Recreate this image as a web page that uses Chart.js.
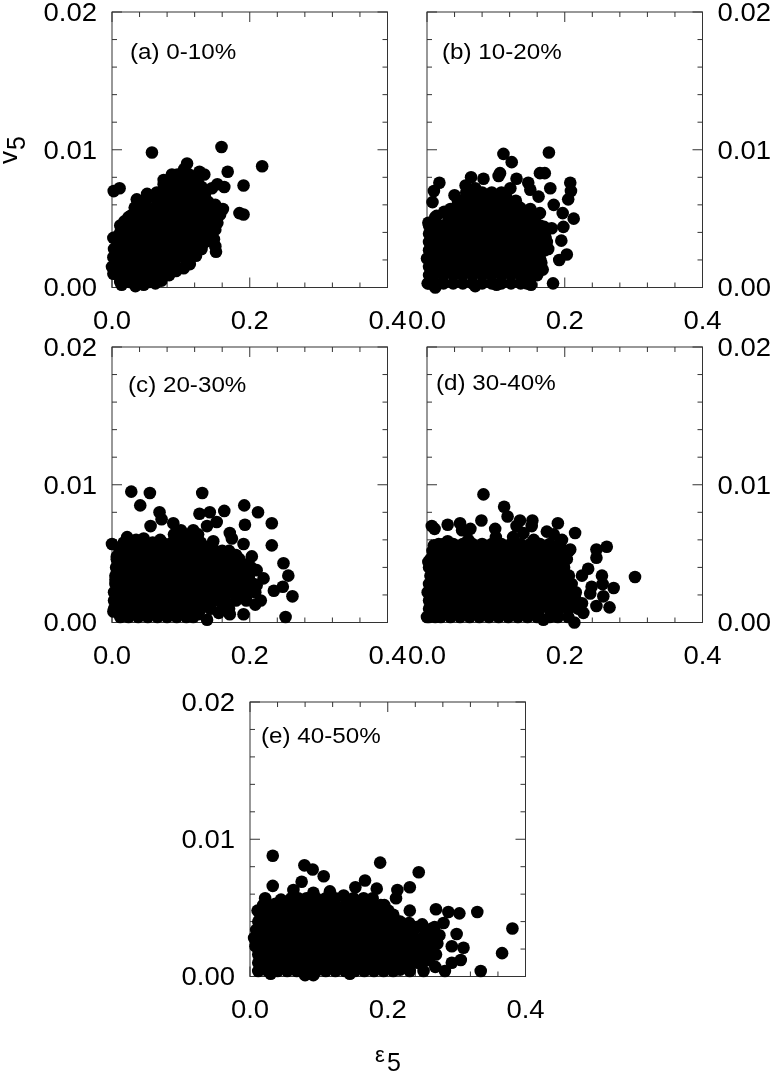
<!DOCTYPE html>
<html>
<head>
<meta charset="utf-8">
<style>
  html, body { margin: 0; background: #fff; }
  #page { position: relative; width: 771px; height: 1072px; overflow: hidden; }
  canvas { position: absolute; left: 0; top: 0; }
</style>
<script src="https://cdn.jsdelivr.net/npm/chart.js@4"></script>
</head>
<body>
<div id="page"></div>
<script>
// tick values
const xTicks = [0, 0.04, 0.08, 0.12, 0.16, 0.2, 0.24, 0.28, 0.32, 0.36, 0.4];
const yTicks = [0, 0.002, 0.004, 0.006, 0.008, 0.01, 0.012, 0.014, 0.016, 0.018, 0.02];
const xLabelled = [0, 0.2, 0.4];
const yLabelled = [0, 0.01, 0.02];
const panelNames = ['(a) 0-10%', '(b) 10-20%', '(c) 20-30%', '(d) 30-40%', '(e) 40-50%'];

// separate points that can be read one by one, as [x, y]
const looseA = [[.058,.0098],[.159,.0102],[.218,.0088],[.168,.0084],[.191,.0074],[.0025,.007],[.011,.0072],[.185,.0054],[.191,.0053],[.161,.0057],[.163,.0073],[.153,.0075],[.145,.0072],[.15,.003],[.151,.0026],[.109,.009],[.127,.0084],[.134,.0082],[.087,.0082],[.075,.0078],[.036,.0064],[.051,.0068],[.065,.0069],[.024,.0051],[.002,.0036],[0,.0015],[.014,.0002],[.034,.0001],[.046,.0002],[.063,.0003],[.002,.001],[.002,.0022],[.003,.0028],[.012,.0045],[.018,.0048],[.072,.0005],[.083,.0009],[.093,.0012],[.104,.0014],[.113,.0017],[.122,.0023],[.13,.0028],[.135,.0033],[.148,.0035],[.15,.0042],[.153,.0047],[.157,.0053],[.15,.006],[.14,.0062],[.135,.0068],[.13,.0073],[.122,.0078],[.118,.008],[.105,.0086],[.095,.0082],[.087,.0081],[.075,.0075],[.06,.0066],[.045,.0063],[.033,.0058],[.028,.0052],[.015,.0043],[.008,.0037]];
const looseB = [[.177,.0098],[.111,.0097],[.123,.0091],[.106,.0083],[.104,.0081],[.018,.0076],[.01,.007],[.008,.0062],[.064,.008],[.082,.0079],[.056,.0074],[.04,.0067],[.13,.0079],[.121,.0072],[.147,.0076],[.164,.0083],[.171,.0083],[.179,.0072],[.162,.0066],[.15,.0071],[.208,.0076],[.209,.007],[.205,.0064],[.184,.006],[.197,.0054],[.213,.005],[.198,.0044],[.181,.0043],[.164,.0054],[.195,.0034],[.176,.0028],[.203,.0024],[.192,.002],[.168,.0013],[.183,.0003],[.151,.0002],[.002,.0047],[.001,.0003],[.012,0],[.07,.0001],[.101,.0002],[0,.0021],[.014,.0052],[.025,.0055],[.172,.0036],[.166,.0018],[.16,.0009],[.17,.0044],[.155,.0049],[.135,.0058],[.115,.0066],[.045,.0062],[.07,.0072]];
const looseC = [[.028,.0095],[.055,.0094],[.041,.0085],[.131,.0094],[.069,.008],[.072,.0075],[.056,.007],[.022,.0062],[0,.0057],[.089,.0072],[.127,.0079],[.142,.008],[.152,.0073],[.138,.007],[.163,.0081],[.192,.0085],[.212,.008],[.193,.0071],[.232,.0072],[.232,.0056],[.171,.0065],[.174,.0061],[.191,.0057],[.147,.0059],[.203,.0048],[.21,.0038],[.22,.0032],[.249,.0043],[.256,.0034],[.248,.0026],[.235,.0023],[.262,.0019],[.252,.0004],[.216,.0016],[.208,.0013],[.191,.0006],[.171,.0006],[.155,.0007],[.138,.0002],[.007,.0048],[.005,.0031],[.002,.0008],[.035,.006],[.046,.0061],[.07,.006],[.1,.0067],[.118,.0067],[.16,.0052],[.18,.0049],[.196,.0042],[.21,.0027],[.17,.001],[.125,.0006],[.14,.0055]];
const looseD = [[.082,.0093],[.112,.0084],[.117,.0077],[.007,.007],[.011,.0068],[.03,.0071],[.048,.0072],[.051,.0067],[.063,.0068],[.079,.0074],[.099,.0068],[.135,.0074],[.153,.0074],[.152,.007],[.13,.007],[.14,.0065],[.19,.0072],[.174,.0066],[.184,.0064],[.215,.0065],[.196,.006],[.261,.0055],[.246,.0053],[.246,.0047],[.302,.0033],[.271,.0025],[.265,.0011],[.256,.0019],[.246,.0012],[.254,.0034],[.255,.0028],[.234,.0039],[.225,.0034],[.239,.0026],[.237,.0021],[.227,.0007],[.214,0],[.169,.0002],[.002,.0044],[0,.0004],[.1,.0062],[.125,.0062],[.155,.006],[.01,.0056],[.03,.0059],[.06,.006],[.208,.0053],[.225,.0014],[.215,.0018]];
const looseE = [[.033,.0088],[.033,.0066],[.079,.0081],[.091,.0078],[.107,.0073],[.075,.0069],[.063,.0063],[.189,.0083],[.245,.0076],[.232,.0065],[.214,.0063],[.212,.0057],[.232,.0048],[.167,.007],[.153,.0065],[.184,.0064],[.116,.0062],[.092,.0061],[.136,.0059],[.022,.0057],[.037,.0053],[.011,.0048],[.27,.0049],[.288,.0047],[.304,.0046],[.33,.0047],[.381,.0035],[.366,.0017],[.335,.0004],[.31,.0021],[.3,.0031],[.293,.0022],[.306,.0012],[.283,.0004],[.293,.001],[.281,.0039],[.264,.0035],[.271,.0027],[.269,.0007],[.252,.0004],[.232,.0004],[.218,.0005],[.242,.0036],[.218,.004],[.201,.0048],[.03,.0002],[.08,.0001],[.092,.0001],[.145,.0002],[.045,.0056],[.06,.0057],[.15,.0057],[.195,.0052],[.208,.0045],[.231,.0039],[.255,.0032],[.265,.0017],[.26,.0012],[.272,.0024],[.275,.003],[.268,.0036],[.25,.0038],[.27,.0016]];

// solid part of each cloud, one row per y value: [y, x, x, x ...]
const denseA = [
  [.0004,.012,.026,.04,.054,.062],
  [.001,.006,.02,.034,.048,.062,.074],
  [.0016,.004,.013,.027,.041,.055,.069,.083,.092],
  [.0022,.006,.02,.034,.048,.062,.076,.09,.104,.112],
  [.0028,.005,.013,.027,.041,.055,.069,.083,.097,.111,.124],
  [.0034,.008,.02,.034,.048,.062,.076,.09,.104,.118,.132],
  [.004,.012,.027,.041,.055,.069,.083,.097,.111,.125,.139],
  [.0046,.02,.034,.048,.062,.076,.09,.104,.118,.132,.146],
  [.0052,.027,.041,.055,.069,.083,.097,.111,.125,.139,.15],
  [.0058,.04,.048,.062,.076,.09,.104,.118,.132,.142],
  [.0064,.05,.069,.083,.097,.111,.125,.136],
  [.007,.08,.09,.104,.118,.132],
  [.0076,.085,.097,.111,.125],
  [.0082,.1,.112]
];
const denseB = [
  [.0003,.003,.012,.024,.038,.052,.066,.08,.094,.108,.122,.136,.145],
  [.0009,.003,.01,.024,.038,.052,.066,.08,.094,.108,.122,.136,.15],
  [.0015,.003,.017,.031,.045,.059,.073,.087,.101,.115,.129,.143,.157],
  [.0021,.003,.01,.024,.038,.052,.066,.08,.094,.108,.122,.136,.15,.164],
  [.0027,.003,.017,.031,.045,.059,.073,.087,.101,.115,.129,.143,.157,.171],
  [.0033,.003,.01,.024,.038,.052,.066,.08,.094,.108,.122,.136,.15,.164,.174],
  [.0039,.003,.017,.031,.045,.059,.073,.087,.101,.115,.129,.143,.157,.171],
  [.0045,.003,.01,.024,.038,.052,.066,.08,.094,.108,.122,.136,.15,.164],
  [.0051,.012,.031,.045,.059,.073,.087,.101,.115,.129,.143,.157],
  [.0057,.034,.045,.052,.066,.08,.094,.108,.122,.136,.15],
  [.0063,.05,.059,.073,.087,.101,.115,.129],
  [.0069,.057,.066,.08,.094,.108]
];
const denseC = [
  [.0004,.012,.024,.038,.052,.066,.08,.094,.108,.118],
  [.001,.003,.017,.031,.045,.059,.073,.087,.101,.115,.129,.143,.16],
  [.0016,.003,.01,.024,.038,.052,.066,.08,.094,.108,.122,.136,.15,.164,.18,.195],
  [.0022,.003,.017,.031,.045,.059,.073,.087,.101,.115,.129,.143,.157,.171,.185,.199,.208],
  [.0028,.005,.01,.024,.038,.052,.066,.08,.094,.108,.122,.136,.15,.164,.178,.192,.206],
  [.0034,.005,.017,.031,.045,.059,.073,.087,.101,.115,.129,.143,.157,.171,.185,.199],
  [.004,.006,.01,.024,.038,.052,.066,.08,.094,.108,.122,.136,.15,.164,.178,.192,.202],
  [.0046,.007,.017,.031,.045,.059,.073,.087,.101,.115,.129,.143,.157,.171,.185],
  [.0052,.011,.024,.038,.052,.066,.08,.094,.108,.122,.136,.15,.17],
  [.0058,.017,.031,.045,.059,.073,.087,.101,.115,.129],
  [.0064,.09,.1,.112,.125]
];
const denseD = [
  [.0004,.003,.012,.02,.034,.048,.062,.076,.09,.104,.118,.132,.146,.16,.178,.19,.205],
  [.001,.003,.01,.024,.038,.052,.066,.08,.094,.108,.122,.136,.15,.164,.178,.192,.206,.22],
  [.0016,.003,.017,.031,.045,.059,.073,.087,.101,.115,.129,.143,.157,.171,.185,.199,.213],
  [.0022,.001,.01,.024,.038,.052,.066,.08,.094,.108,.122,.136,.15,.164,.178,.192,.206,.216],
  [.0028,.003,.017,.031,.045,.059,.073,.087,.101,.115,.129,.143,.157,.171,.185,.199,.21],
  [.0034,.005,.01,.024,.038,.052,.066,.08,.094,.108,.122,.136,.15,.164,.178,.192,.206],
  [.004,.003,.017,.031,.045,.059,.073,.087,.101,.115,.129,.143,.157,.171,.185,.199],
  [.0046,.005,.01,.024,.038,.052,.066,.08,.094,.108,.122,.136,.15,.164,.178,.192,.203],
  [.0052,.008,.017,.031,.045,.059,.073,.087,.101,.115,.129,.143,.157,.171,.185,.199,.206],
  [.0057,.017,.024,.038,.052,.066,.08,.094,.108,.122,.136,.15,.164,.178,.192]
];
const denseE = [
  [.0004,.012,.026,.04,.054,.068,.082,.096,.11,.124,.138,.152,.166,.18,.194,.208],
  [.001,.012,.019,.033,.047,.061,.075,.089,.103,.117,.131,.145,.159,.173,.187,.201,.215,.229,.243,.25],
  [.0016,.012,.026,.04,.054,.068,.082,.096,.11,.124,.138,.152,.166,.18,.194,.208,.222,.236,.25,.257],
  [.0022,.008,.019,.033,.047,.061,.075,.089,.103,.117,.131,.145,.159,.173,.187,.201,.215,.229,.243,.257,.264],
  [.0028,.006,.012,.026,.04,.054,.068,.082,.096,.11,.124,.138,.152,.166,.18,.194,.208,.222,.236,.25,.26],
  [.0034,.009,.019,.033,.047,.061,.075,.089,.103,.117,.131,.145,.159,.173,.187,.201,.215,.229,.238],
  [.004,.012,.026,.04,.054,.068,.082,.096,.11,.124,.138,.152,.166,.18,.194,.208,.215],
  [.0046,.014,.019,.033,.047,.061,.075,.089,.103,.117,.131,.145,.159,.173,.187,.2],
  [.0052,.019,.026,.04,.054,.068,.082,.096,.11,.124,.138,.152,.166,.18,.19],
  [.0057,.07,.082,.096,.11,.124,.165,.178]
];

const textStretch = 1.1;
const tickColor = '#333';
const leftBoxWidth = 90;
const rightBoxWidth = 68.5;
const xBoxHeight = 50;

// plot boxes in page pixels
const panels = [
  { loose: looseA, dense: denseA, left: 112, right: 387.5, top: 12, bottom: 287.5, yAt: 'left', nameX: 18, nameY: 47 },
  { loose: looseB, dense: denseB, left: 427, right: 702.5, top: 12, bottom: 287.5, yAt: 'right', nameX: 15, nameY: 47 },
  { loose: looseC, dense: denseC, left: 112, right: 387.5, top: 347, bottom: 622.5, yAt: 'left', nameX: 16, nameY: 45 },
  { loose: looseD, dense: denseD, left: 427, right: 702.5, top: 347, bottom: 622.5, yAt: 'right', nameX: 9, nameY: 43 },
  { loose: looseE, dense: denseE, left: 250, right: 525.5, top: 702, bottom: 976.5, yAt: 'left', nameX: 11, nameY: 41 }
];

function line(ctx, x1, y1, x2, y2) {
  ctx.beginPath();
  ctx.moveTo(x1, y1);
  ctx.lineTo(x2, y2);
  ctx.stroke();
}

// inward ticks on all four sides and the frame
const framePlugin = {
  id: 'frame',
  beforeDatasetsDraw(chart) {
    const { ctx, chartArea: a, scales } = chart;
    ctx.save();
    ctx.strokeStyle = tickColor;
    ctx.lineWidth = 1;
    xTicks.forEach(v => {
      const x = scales.x.getPixelForValue(v);
      const len = xLabelled.includes(v) ? 10 : 5;
      line(ctx, x, a.bottom, x, a.bottom - len);
      line(ctx, x, a.top, x, a.top + len);
    });
    yTicks.forEach(v => {
      const y = scales.y.getPixelForValue(v);
      const len = yLabelled.includes(v) ? 10 : 5;
      line(ctx, a.left, y, a.left + len, y);
      line(ctx, a.right, y, a.right - len, y);
    });
    ctx.strokeRect(a.left, a.top, a.right - a.left, a.bottom - a.top);
    ctx.restore();
  }
};

const namePlugin = {
  id: 'panelName',
  afterDatasetsDraw(chart, args, opts) {
    const { ctx, chartArea: a } = chart;
    ctx.save();
    ctx.font = '22px "Liberation Sans"';
    ctx.fillStyle = '#000';
    ctx.textAlign = 'left';
    ctx.textBaseline = 'alphabetic';
    ctx.fillText(opts.text, a.left + opts.x, a.top + opts.y);
    ctx.restore();
  }
};

// axis names, the letter sits higher than the digit
function plainText(ctx, text, size, x, y, rotate) {
  ctx.save();
  ctx.font = size + 'px "Liberation Sans"';
  ctx.fillStyle = '#000';
  ctx.textAlign = 'left';
  ctx.textBaseline = 'alphabetic';
  ctx.translate(x, y);
  if (rotate) ctx.rotate(-Math.PI / 2);
  ctx.scale(1 / textStretch, 1);
  ctx.fillText(text, 0, 0);
  ctx.restore();
}

const titlePlugin = {
  id: 'axisNames',
  afterDraw(chart) {
    if (chart.canvas.dataset.panel === '0') {
      plainText(chart.ctx, 'v', 26, 17, 164, true);
      plainText(chart.ctx, '5', 25, 25, 150, true);
    }
    if (chart.canvas.dataset.panel === '4') {
      plainText(chart.ctx, 'ε', 22, 375, 1062, false);
      plainText(chart.ctx, '5', 25, 387, 1071, false);
    }
  }
};

// the reference text is a little wider than the font, y tick labels sit 2px lower
function stretchText(ctx) {
  const draw = ctx.fillText.bind(ctx);
  ctx.fillText = (t, x, y) => {
    ctx.save();
    ctx.translate(x, ctx.textBaseline === 'middle' ? y + 2 : y);
    ctx.scale(textStretch, 1);
    draw(t, 0, 0);
    ctx.restore();
  };
}

function toPoints(loose, dense) {
  const pts = loose.map(p => ({ x: p[0], y: p[1] }));
  dense.forEach(row => {
    row.slice(1).forEach(x => pts.push({ x: x, y: row[0] }));
  });
  return pts;
}

const page = document.getElementById('page');
panels.forEach((p, i) => {
  const canvas = document.createElement('canvas');
  canvas.width = 771;
  canvas.height = 1072;
  canvas.dataset.panel = i;
  page.appendChild(canvas);
  const ctx = canvas.getContext('2d');
  stretchText(ctx);

  const atLeft = p.yAt === 'left';
  new Chart(ctx, {
    type: 'scatter',
    data: {
      datasets: [{
        data: toPoints(p.loose, p.dense),
        backgroundColor: '#000',
        borderColor: '#000',
        pointRadius: 6.3,
        borderWidth: 0,
        clip: false
      }]
    },
    plugins: [framePlugin, namePlugin, titlePlugin],
    options: {
      responsive: false,
      animation: false,
      layout: {
        autoPadding: false,
        padding: {
          left: atLeft ? p.left - leftBoxWidth : p.left,
          right: atLeft ? 771 - p.right : 0,
          top: p.top,
          bottom: 1072 - p.bottom - xBoxHeight
        }
      },
      plugins: {
        legend: { display: false },
        tooltip: { enabled: false },
        panelName: { text: panelNames[i], x: p.nameX, y: p.nameY }
      },
      scales: {
        x: {
          type: 'linear',
          min: 0,
          max: 0.4,
          grid: { display: false },
          border: { display: false },
          afterBuildTicks: s => { s.ticks = xLabelled.map(v => ({ value: v })); },
          afterFit: s => { s.height = xBoxHeight; s.paddingLeft = 0; s.paddingRight = 0; },
          ticks: {
            color: '#000',
            padding: 10,
            autoSkip: false,
            maxRotation: 0,
            minRotation: 0,
            font: { family: 'Liberation Sans', size: 25 },
            callback: v => v.toFixed(1)
          }
        },
        y: {
          type: 'linear',
          position: p.yAt,
          min: 0,
          max: 0.02,
          grid: { display: false },
          border: { display: false },
          afterBuildTicks: s => { s.ticks = yLabelled.map(v => ({ value: v })); },
          afterFit: s => { s.width = atLeft ? leftBoxWidth : rightBoxWidth; s.paddingTop = 0; s.paddingBottom = 0; },
          ticks: {
            color: '#000',
            padding: 7,
            autoSkip: false,
            font: { family: 'Liberation Sans', size: 25 },
            callback: v => v.toFixed(2)
          }
        }
      }
    }
  });
});
</script>
</body>
</html>
